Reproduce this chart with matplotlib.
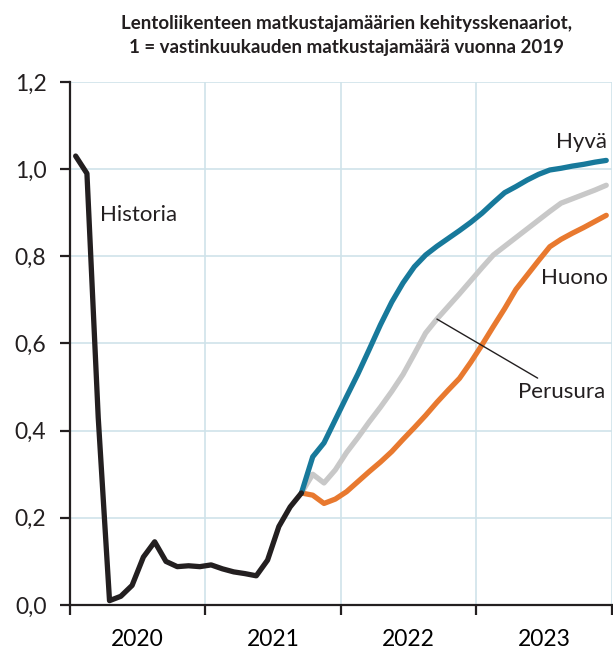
import numpy as np
import matplotlib
matplotlib.use("Agg")
import matplotlib.pyplot as plt

plt.rcParams['font.family'] = ['Lato', 'DejaVu Sans']

# Monthly values, Jan 2020 onwards (1 = same month in 2019)
historia = [1.03, 0.99, 0.43, 0.01, 0.02, 0.045, 0.11, 0.145, 0.10, 0.088, 0.09, 0.088,
            0.092, 0.083, 0.076, 0.072, 0.067, 0.103, 0.18, 0.225, 0.257]
# Scenarios start from Sep 2021 (last history month)
hyva = [0.257, 0.34, 0.372, 0.425, 0.478, 0.53, 0.586, 0.643, 0.695, 0.739, 0.776, 0.803,
        0.823, 0.841, 0.859, 0.878, 0.899, 0.923, 0.946, 0.96, 0.975, 0.988, 0.998, 1.002,
        1.007, 1.011, 1.016, 1.02]
perusura = [0.257, 0.30, 0.28, 0.31, 0.35, 0.384, 0.42, 0.454, 0.49, 0.529, 0.576, 0.624,
            0.656, 0.685, 0.714, 0.744, 0.774, 0.803, 0.823, 0.843, 0.863, 0.883, 0.903, 0.922,
            0.932, 0.942, 0.952, 0.963]
huono = [0.257, 0.252, 0.233, 0.243, 0.26, 0.283, 0.306, 0.328, 0.352, 0.38, 0.407, 0.435,
         0.465, 0.493, 0.52, 0.557, 0.597, 0.639, 0.68, 0.724, 0.757, 0.79, 0.822, 0.839,
         0.853, 0.866, 0.88, 0.894]
years = ['2020', '2021', '2022', '2023']
yticks = [0.0, 0.2, 0.4, 0.6, 0.8, 1.0, 1.2]

title = ("Lentoliikenteen matkustajamäärien kehitysskenaariot,\n"
         "1 = vastinkuukauden matkustajamäärä vuonna 2019")

c_hist = '#231f20'
c_hyva = '#17799b'
c_perus = '#c8c8c8'
c_huono = '#e8792f'
c_grid = '#cfe3ea'

fig = plt.figure(figsize=(6.13, 6.53), dpi=100)
ax = fig.add_axes([0.1142, 0.0735, 0.884, 0.801])

x_hist = np.arange(len(historia)) + 0.5
start = len(historia) - 1
x_scen = np.arange(start, start + len(hyva)) + 0.5

lw = 3.8
ax.plot(x_scen, perusura, color=c_perus, lw=lw, solid_capstyle='round', zorder=3)
ax.plot(x_scen, huono, color=c_huono, lw=lw, solid_capstyle='round', zorder=4)
ax.plot(x_scen, hyva, color=c_hyva, lw=lw, solid_capstyle='round', zorder=5)
ax.plot(x_hist, historia, color=c_hist, lw=lw, solid_capstyle='round', zorder=6)

ax.set_xlim(0, 12 * len(years))
ax.set_ylim(0, 1.2)

ax.set_yticks(yticks)
ax.set_yticklabels([f"{v:.1f}".replace('.', ',') for v in yticks])
ax.set_xticks(np.arange(0, 12 * len(years) + 1, 12))
ax.set_xticklabels([])
ax.set_xticks(np.arange(6, 12 * len(years), 12), minor=True)
ax.set_xticklabels(years, minor=True)

ax.grid(True, which='major', color=c_grid, lw=1.2, zorder=0)
ax.set_axisbelow(True)

for s in ['top', 'right']:
    ax.spines[s].set_visible(False)
for s in ['left', 'bottom']:
    ax.spines[s].set_color(c_hist)
    ax.spines[s].set_linewidth(1.6)

ax.tick_params(axis='both', which='major', direction='out', length=7, width=1.6,
               color=c_hist, labelsize=16.5, colors='#231f20')
ax.tick_params(axis='y', pad=10)
ax.tick_params(axis='x', which='minor', length=0, labelsize=16.5, pad=17)

# series labels
ax.text(2.65, 0.895, 'Historia', fontsize=16, ha='left', va='center', color='#231f20')
ax.text(47.6, 1.062, 'Hyvä', fontsize=16, ha='right', va='center', color='#231f20')
ax.text(47.6, 0.75, 'Huono', fontsize=16, ha='right', va='center', color='#231f20')
i_lab = 12
ax.annotate('Perusura', xy=(x_scen[i_lab], perusura[i_lab]), xytext=(39.7, 0.488),
            fontsize=16, ha='left', va='center', color='#231f20',
            arrowprops=dict(arrowstyle='-', color='#231f20', lw=1.0,
                            shrinkA=2, shrinkB=0), zorder=7)

fig.text(0.565, 0.946, title, ha='center', va='center', fontsize=13.5,
         fontweight='bold', linespacing=1.5, color='#231f20')

fig.savefig('out.png', dpi=100)
